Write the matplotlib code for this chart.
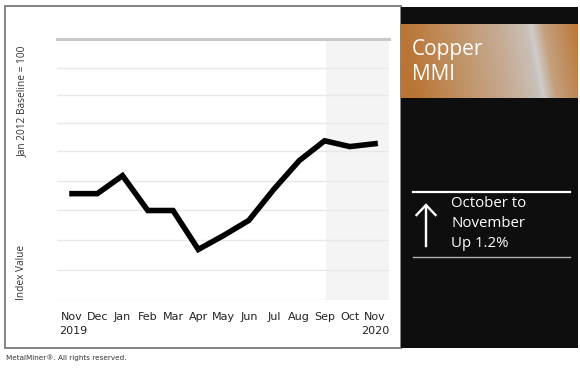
import matplotlib
matplotlib.use('Agg')
import matplotlib.pyplot as plt
import numpy as np
from matplotlib.patches import Rectangle
from matplotlib.lines import Line2D

# Copper MMI, Nov 2019 - Nov 2020
months = ['Nov', 'Dec', 'Jan', 'Feb', 'Mar', 'Apr', 'May', 'Jun',
          'Jul', 'Aug', 'Sep', 'Oct', 'Nov']
index_values = [68.3, 68.3, 71.4, 65.4, 65.4, 58.7, 61.1, 63.7,
                69.1, 74.0, 77.4, 76.4, 76.9]
grid_values = [50, 55.1, 60.4, 65.5, 70.5, 75.7, 80.5, 85.3, 90.0, 95]
start_year = '2019'
end_year = '2020'
title_lines = ['Copper', 'MMI']
change_lines = ['October to', 'November', 'Up 1.2%']

W, H = 580, 374
fig = plt.figure(figsize=(W / 100, H / 100), dpi=100)
fig.patch.set_facecolor('white')


def fx(px):
    return px / W


def fy(py):
    return 1 - py / H


# white panel border
fig.patches.append(Rectangle((fx(5), fy(348)), fx(396), 342 / H, transform=fig.transFigure,
                             facecolor='white', edgecolor='#7a7a7a', linewidth=1.3, zorder=-2))
# dark side panel
fig.patches.append(Rectangle((fx(401), fy(348)), fx(177), 341 / H, transform=fig.transFigure,
                             facecolor='#0e0e0e', edgecolor='none', zorder=-1))

# main chart
ax = fig.add_axes([fx(57), fy(300), fx(332), 261.5 / H])
ax.set_zorder(2)
ax.set_facecolor('none')
x = np.arange(len(months))
ax.set_xlim(-0.594, 12.55)
ax.set_ylim(grid_values[0], grid_values[-1])
ax.axvspan(10.05, 12.55, color='#f4f4f4', zorder=0, lw=0)
for g in grid_values[:-1]:
    ax.axhline(g, color='#e8e8e8', lw=1, zorder=1)
ax.axhline(grid_values[-1], color='#c9c9c9', lw=2.2, zorder=1, clip_on=False)
ax.plot(x, index_values, color='black', lw=4.0, solid_joinstyle='miter', zorder=3)
for s in ax.spines.values():
    s.set_visible(False)
ax.set_yticks([])
ax.set_xticks(x)
ax.set_xticklabels(months, fontsize=8, color='#222222', family='DejaVu Sans')
ax.tick_params(axis='x', length=0, pad=9)
ax.text(0.005, -0.117, start_year, transform=ax.transAxes, ha='left', va='center',
        fontsize=8, color='#222222', family='DejaVu Sans')
ax.text(1.0, -0.117, end_year, transform=ax.transAxes, ha='right', va='center',
        fontsize=8, color='#222222', family='DejaVu Sans')

# y-axis captions
fig.text(fx(22), fy(101), 'Jan 2012 Baseline = 100', rotation=90, ha='center', va='center',
         fontsize=7.3, color='#333333', family='Open Sans')
fig.text(fx(22), fy(300), 'Index Value', rotation=90, ha='center', va='bottom',
         fontsize=7.3, color='#333333', family='Open Sans')

# copper banner gradient
bax = fig.add_axes([fx(401), fy(98), fx(177), 74 / H])
bax.set_zorder(2)
bax.axis('off')
bw, bh = 177, 74
xx, yy = np.meshgrid(np.arange(bw), np.arange(bh))
u = (xx - 0.18 * yy) / bw
stops = [0.0, 0.3, 0.55, 0.7, 0.73, 0.8, 1.0]
cols = np.array([[186, 116, 52], [192, 148, 104], [198, 172, 150], [200, 192, 184],
                 [206, 204, 204], [196, 160, 126], [188, 118, 52]]) / 255
img = np.stack([np.interp(u, stops, cols[:, k]) for k in range(3)], axis=-1)
bax.imshow(img, aspect='auto', extent=[0, 1, 0, 1], origin='upper')
bax.set_xlim(0, 1)
bax.set_ylim(0, 1)
fig.text(fx(412), fy(49), title_lines[0], ha='left', va='center', fontsize=15,
         color='white', family='Open Sans', zorder=5)
fig.text(fx(412), fy(74), title_lines[1], ha='left', va='center', fontsize=15,
         color='white', family='Open Sans', zorder=5)

# change box
fig.add_artist(Line2D([fx(413), fx(570)], [fy(191.5), fy(191.5)], color='white', lw=1.6,
                      transform=fig.transFigure))
fig.add_artist(Line2D([fx(413), fx(570)], [fy(256.5), fy(256.5)], color='#b0b0b0', lw=1.0,
                      transform=fig.transFigure))
fig.add_artist(Line2D([fx(426), fx(426)], [fy(246), fy(206)], color='white', lw=1.7,
                      transform=fig.transFigure))
fig.add_artist(Line2D([fx(416.5), fx(426), fx(435.5)], [fy(215), fy(205), fy(215)], color='white',
                      lw=1.7, transform=fig.transFigure, solid_joinstyle='miter'))
for i, line in enumerate(change_lines):
    fig.text(fx(451), fy(204 + 19.5 * i), line, ha='left', va='center', fontsize=10.8,
             color='white', family='Open Sans')

fig.text(fx(6), fy(358), 'MetalMiner\u00ae. All rights reserved.', ha='left', va='center',
         fontsize=5.2, color='#333333', family='DejaVu Sans')

fig.savefig('out.png', dpi=100)
